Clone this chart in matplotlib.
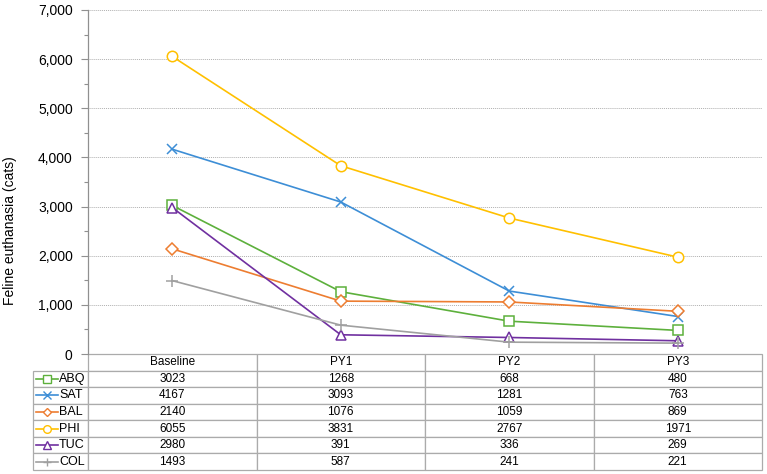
import numpy as np
import matplotlib.pyplot as plt
from matplotlib.ticker import MultipleLocator, FuncFormatter

plt.rcParams['font.family'] = ['Liberation Sans', 'DejaVu Sans']

# ─── Data ─────────────────────────────────────────────────────────────────────
periods = ['Baseline', 'PY1', 'PY2', 'PY3']
sites = ['ABQ', 'SAT', 'BAL', 'PHI', 'TUC', 'COL']
abq = [3023, 1268, 668, 480]
sat = [4167, 3093, 1281, 763]
bal = [2140, 1076, 1059, 869]
phi = [6055, 3831, 2767, 1971]
tuc = [2980, 391, 336, 269]
col = [1493, 587, 241, 221]
series = [abq, sat, bal, phi, tuc, col]

colors = ['#5DB03C', '#3D8ED6', '#ED7D31', '#FFC000', '#7030A0', '#A0A0A0']
markers = ['s', 'x', 'D', 'o', '^', '+']
msizes = [7, 7, 6, 7.5, 7, 8.5]

# ─── Figure ───────────────────────────────────────────────────────────────────
fig = plt.figure(figsize=(7.67, 4.74), dpi=100)
ax = fig.add_axes([88 / 767, 1 - 354 / 474, 674 / 767, 344 / 474])

x = np.arange(len(periods))
for vals, c, m, ms in zip(series, colors, markers, msizes):
    ax.plot(x, vals, color=c, lw=1.2, marker=m, ms=ms, mfc='white',
            mec=c, mew=1.1, zorder=3)

ax.set_xlim(-0.5, len(periods) - 0.5)
ax.set_ylim(0, 7000)
ax.yaxis.set_major_locator(MultipleLocator(1000))
ax.yaxis.set_minor_locator(MultipleLocator(500))
ax.yaxis.set_major_formatter(FuncFormatter(lambda v, p: f'{int(v):,}'))
ax.tick_params(axis='y', which='major', length=5, width=0.8, color='#909090',
               labelsize=10, pad=6)
ax.tick_params(axis='y', which='minor', length=3, width=0.8, color='#909090')
ax.set_xticks([])
for s in ['top', 'right', 'bottom']:
    ax.spines[s].set_visible(False)
ax.spines['left'].set_color('#909090')
ax.spines['left'].set_linewidth(0.9)

for v in range(1000, 7001, 1000):
    ax.axhline(v, color='#B0B0B0', lw=0.7, ls=(0, (1, 1)), zorder=1)

ax.set_ylabel('Feline euthanasia (cats)', fontsize=10)
ax.yaxis.set_label_coords(-0.105, 0.36)

# ─── Data table ───────────────────────────────────────────────────────────────
lab_w = 55 / 674
tab_h = 116 / 344
cell_text = [[''] + [str(v) for v in vals] for vals in series]
tbl = ax.table(cellText=cell_text, colLabels=[''] + periods,
               colWidths=[lab_w] + [0.25] * len(periods),
               cellLoc='center',
               bbox=[-lab_w, -tab_h, 1 + lab_w, tab_h])
tbl.auto_set_font_size(False)
tbl.set_fontsize(8.5)
for (r, cidx), cell in tbl.get_celld().items():
    cell.set_edgecolor('#ABABAB')
    cell.set_linewidth(0.9)
    if r == 0 and cidx == 0:
        cell.visible_edges = 'open'

n_rows = len(sites) + 1
row_h = tab_h / n_rows
x0 = -lab_w + 3 / 674
x1 = -lab_w + 25 / 674
for i, (name, c, m) in enumerate(zip(sites, colors, markers)):
    yc = -(row_h * (i + 1) + row_h / 2)
    ax.plot([x0, (x0 + x1) / 2, x1], [yc, yc, yc], color=c, lw=1.2,
            marker=m, ms=5.5 if m != 'D' else 4.5, mfc='white', mec=c,
            mew=1.0, markevery=[1], transform=ax.transAxes, clip_on=False)
    ax.text(x1 + 1 / 674, yc, name, transform=ax.transAxes, fontsize=9,
            ha='left', va='center')

fig.savefig('out.png', dpi=100)
